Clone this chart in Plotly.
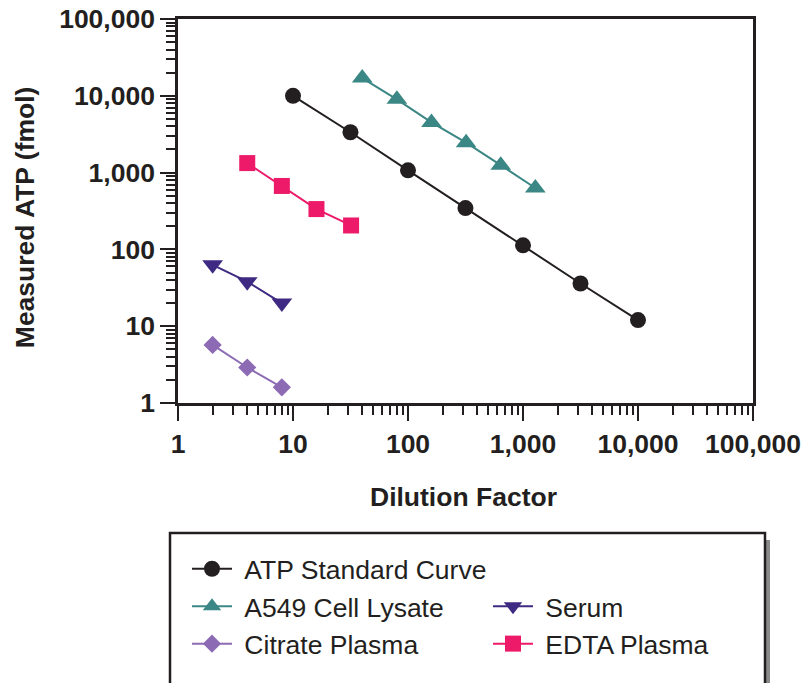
import plotly.graph_objects as go

# ---- data ----
atp_x = [10, 31.6, 100, 316, 1000, 3162, 10000]
atp_y = [10000, 3350, 1070, 345, 113, 36, 12]

a549_x = [40, 80, 160, 320, 640, 1280]
a549_y = [17000, 9000, 4500, 2450, 1250, 630]

serum_x = [2, 4, 8]
serum_y = [63, 38, 20]

citrate_x = [2, 4, 8]
citrate_y = [5.7, 2.9, 1.6]

edta_x = [4, 8, 16, 32]
edta_y = [1330, 670, 335, 205]

tick_vals = [1, 10, 100, 1000, 10000, 100000]
tick_text = ["1", "10", "100", "1,000", "10,000", "100,000"]

INK = "#231f20"
FONT = "Liberation Sans, Arial, Helvetica, sans-serif"
NB = "\u00a0"

fig = go.Figure()

fig.add_trace(go.Scatter(x=atp_x, y=atp_y, name=NB + "ATP Standard Curve", mode="lines+markers",
                         line=dict(color=INK, width=2),
                         marker=dict(symbol="circle", size=16, color=INK)))
# spacer entry so that the legend rows match the reference layout
fig.add_trace(go.Scatter(x=[None], y=[None], name=" ", mode="lines",
                         line=dict(color="rgba(0,0,0,0)", width=0), hoverinfo="skip"))
fig.add_trace(go.Scatter(x=a549_x, y=a549_y, name=NB + "A549 Cell Lysate", mode="lines+markers",
                         line=dict(color="#3b8785", width=2),
                         marker=dict(symbol="triangle-up", size=18, color="#3b8785")))
fig.add_trace(go.Scatter(x=serum_x, y=serum_y, name=NB + "Serum", mode="lines+markers",
                         line=dict(color="#3e2a82", width=2),
                         marker=dict(symbol="triangle-down", size=18, color="#3e2a82")))
fig.add_trace(go.Scatter(x=citrate_x, y=citrate_y, name=NB + "Citrate Plasma", mode="lines+markers",
                         line=dict(color="#8c6bb4", width=2),
                         marker=dict(symbol="diamond", size=14, color="#8c6bb4")))
fig.add_trace(go.Scatter(x=edta_x, y=edta_y, name=NB + "EDTA Plasma", mode="lines+markers",
                         line=dict(color="#ec1a69", width=2),
                         marker=dict(symbol="square", size=16, color="#ec1a69")))

axis_common = dict(
    type="log",
    range=[0, 5],
    tickvals=tick_vals,
    ticktext=tick_text,
    ticks="outside",
    ticklen=15,
    tickwidth=2,
    tickcolor=INK,
    showline=True,
    linewidth=2.5,
    linecolor=INK,
    mirror=True,
    showgrid=False,
    zeroline=False,
    automargin=False,
    tickfont=dict(family=FONT, size=26.5, color=INK, weight="bold"),
    minor=dict(ticks="outside", ticklen=9, tickwidth=2, tickcolor=INK, dtick="D1", showgrid=False),
)

fig.update_xaxes(**axis_common)
fig.update_yaxes(**axis_common)

fig.update_layout(
    width=803, height=683,
    margin=dict(l=178, r=50, t=19, b=280, autoexpand=False),
    plot_bgcolor="white",
    paper_bgcolor="white",
    font=dict(family=FONT, color=INK),
    showlegend=True,
    legend=dict(
        orientation="h",
        x=-0.00001, xanchor="left",
        y=(403 - 536) / 384, yanchor="top",
        entrywidth=246, entrywidthmode="pixels",
        font=dict(family=FONT, size=26.5, color=INK),
        bgcolor="rgba(0,0,0,0)",
        bordercolor="rgba(0,0,0,0)",
        borderwidth=9,
        itemwidth=40,
        tracegroupgap=0,
    ),
    annotations=[
        dict(text="Dilution Factor", xref="paper", yref="paper", x=0.4957, y=-0.2448,
             xanchor="center", yanchor="middle", showarrow=False,
             font=dict(family=FONT, size=26.5, color=INK, weight="bold")),
        dict(text="Measured ATP (fmol)", xref="paper", yref="paper", x=-0.266, y=0.484,
             xanchor="center", yanchor="middle", showarrow=False, textangle=-90,
             font=dict(family=FONT, size=26.5, color=INK, weight="bold")),
    ],
    shapes=[
        # legend shadow
        dict(type="rect", xref="paper", yref="paper",
             x0=(765 - 178) / 575, x1=(770 - 178) / 575,
             y0=(403 - 540) / 384, y1=(403 - 700) / 384,
             fillcolor="#8a8a8a", line=dict(width=0), layer="above"),
        # legend frame
        dict(type="rect", xref="paper", yref="paper",
             x0=(170 - 178) / 575, x1=(765 - 178) / 575,
             y0=(403 - 533) / 384, y1=(403 - 700) / 384,
             fillcolor="rgba(0,0,0,0)", line=dict(color=INK, width=2.5), layer="above"),
    ],
)

fig.write_html("out.html")
